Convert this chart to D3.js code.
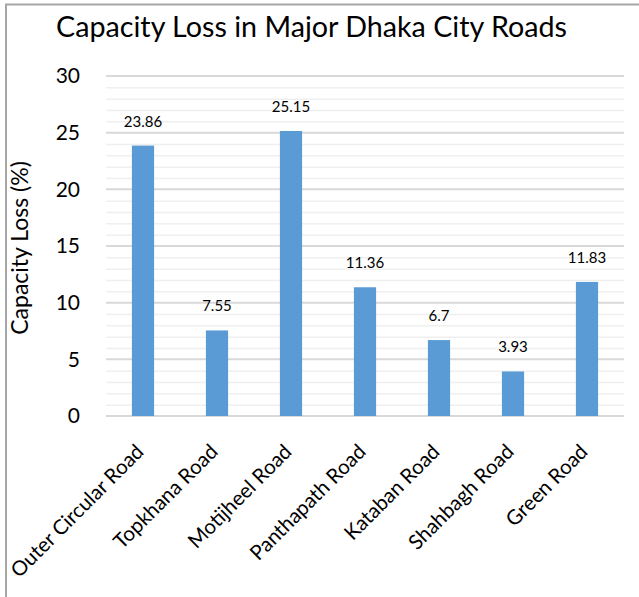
<!DOCTYPE html>
<html>
<head>
<meta charset="utf-8">
<script src="https://cdn.jsdelivr.net/npm/d3@7"></script>
<style>
  body { margin: 0; background: #fff; }
  text { font-family: Lato, "Open Sans", sans-serif; fill: #000; }
</style>
</head>
<body>
<div id="chart"></div>
<script>
// Chart data
const roads = ["Outer Circular Road", "Topkhana Road", "Motijheel Road", "Panthapath Road",
               "Kataban Road", "Shahbagh Road", "Green Road"];
const capacityLoss = [23.86, 7.55, 25.15, 11.36, 6.7, 3.93, 11.83];
const yTicks = [0, 5, 10, 15, 20, 25, 30];

const W = 639, H = 597;
const plot = {left: 106, right: 624, top: 76, bottom: 416};

const svg = d3.select("#chart")
  .append("svg")
  .attr("width", W)
  .attr("height", H);

// Outer frame (top and left edges visible)
svg.append("line").attr("x1", 5).attr("x2", W).attr("y1", 4.5).attr("y2", 4.5)
  .attr("stroke", "#a6a6a6").attr("stroke-width", 2);
svg.append("line").attr("x1", 6).attr("x2", 6).attr("y1", 4).attr("y2", H)
  .attr("stroke", "#a6a6a6").attr("stroke-width", 2);

// Scales
const x = d3.scaleBand().domain(roads).range([plot.left, plot.right]).paddingInner(0.7).paddingOuter(0.35);
const y = d3.scaleLinear().domain([0, 30]).range([plot.bottom, plot.top]);

// Minor gridlines
svg.append("g")
  .selectAll("line")
  .data(d3.range(0, 31).filter(v => v % 5 !== 0))
  .enter()
  .append("line")
  .attr("x1", plot.left).attr("x2", plot.right)
  .attr("y1", d => y(d) + 0.5).attr("y2", d => y(d) + 0.5)
  .attr("stroke", "#efefef").attr("stroke-width", 1.5);

// Major gridlines
svg.append("g")
  .selectAll("line")
  .data(yTicks)
  .enter()
  .append("line")
  .attr("x1", plot.left).attr("x2", plot.right)
  .attr("y1", d => y(d)).attr("y2", d => y(d))
  .attr("stroke", "#d9d9d9").attr("stroke-width", 2);

// Y axis labels
const yAxis = svg.append("g")
  .attr("transform", `translate(${plot.left - 26},0)`)
  .call(d3.axisLeft(y).tickValues(yTicks).tickSize(0).tickPadding(0));
yAxis.select(".domain").remove();
yAxis.selectAll("text")
  .style("font-size", "21px")
  .style("font-family", "Lato, sans-serif")
  .attr("fill", "#000");

// Bars
svg.append("g")
  .selectAll("rect")
  .data(roads)
  .enter()
  .append("rect")
  .attr("x", d => x(d))
  .attr("width", x.bandwidth())
  .attr("y", (d, i) => y(capacityLoss[i]))
  .attr("height", (d, i) => y(0) - y(capacityLoss[i]))
  .attr("fill", "#5b9bd5");

// Value labels
svg.append("g")
  .selectAll("text")
  .data(roads)
  .enter()
  .append("text")
  .attr("x", d => x(d) + x.bandwidth() / 2)
  .attr("y", (d, i) => y(capacityLoss[i]) - 19)
  .attr("text-anchor", "middle")
  .style("font-size", "15px")
  .text((d, i) => capacityLoss[i]);

// X axis labels, rotated
const xAxis = svg.append("g")
  .attr("transform", `translate(0,${plot.bottom})`)
  .call(d3.axisBottom(x).tickSize(0).tickPadding(0));
xAxis.select(".domain").remove();
xAxis.selectAll("text")
  .style("font-size", "20.5px")
  .style("font-family", "Lato, sans-serif")
  .attr("fill", "#000")
  .attr("text-anchor", "end")
  .attr("dy", null)
  .attr("transform", "translate(2,37) rotate(-45)");

// Y axis title
svg.append("text")
  .attr("transform", "translate(28,248) rotate(-90)")
  .attr("text-anchor", "middle")
  .style("font-size", "23px")
  .text("Capacity Loss (%)");

// Title
svg.append("text")
  .attr("x", 56)
  .attr("y", 37)
  .style("font-size", "28.7px")
  .text("Capacity Loss in Major Dhaka City Roads");
</script>
</body>
</html>
